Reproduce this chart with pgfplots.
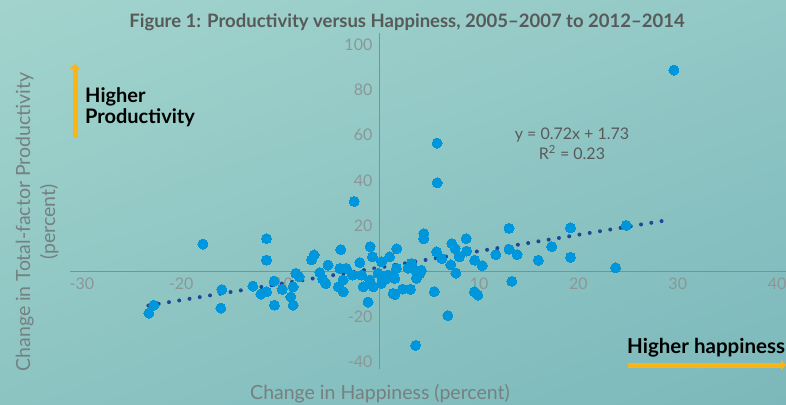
\documentclass[border=0pt]{standalone}
\usepackage{pgfplots}
\pgfplotsset{compat=1.18}
\usetikzlibrary{shadings,arrows.meta}
\usepackage{fontspec}
\setmainfont{Lato}
\definecolor{bgUL}{RGB}{162,212,205}
\definecolor{bgUR}{RGB}{146,200,198}
\definecolor{bgLL}{RGB}{140,196,194}
\definecolor{bgLR}{RGB}{124,184,187}
\definecolor{dotblue}{RGB}{0,150,220}
\definecolor{trendblue}{RGB}{28,72,150}
\definecolor{axisgray}{RGB}{135,140,140}
\definecolor{tickgray}{RGB}{140,150,150}
\definecolor{titlegray}{RGB}{88,90,90}
\definecolor{labelgray}{RGB}{118,128,128}
\definecolor{arroworange}{RGB}{250,180,20}
\begin{document}
\begin{tikzpicture}[x=1pt,y=1pt]
\shade[upper left=bgUL, upper right=bgUR, lower left=bgLL, lower right=bgLR] (0,-404) rectangle (786,0);
\begin{axis}[
  at={(70pt,-369pt)}, anchor=south west,
  scale only axis, width=716pt, height=336pt,
  xmin=-31.2, xmax=40.9, ymin=-43, ymax=105,
  axis lines=middle,
  axis line style={-, draw=axisgray, line width=1.2pt},
  xtick={-30,-20,-10,10,20,30,40},
  ytick={-40,-20,20,40,60,80,100},
  major tick length=0pt,
  tick label style={font=\fontsize{16}{16}\selectfont, text=tickgray},
  /pgf/number format/assume math mode=true,
  xticklabel style={anchor=north, yshift=-3pt},
  yticklabel style={anchor=east, xshift=-4pt},
  clip=false,
]
\addplot[dotblue, only marks, mark=*, mark size=5pt, mark options={fill=dotblue, draw=dotblue, line width=0pt}] coordinates {
(-23.26,-18.37) (-22.76,-14.85) (-17.82,12.03) (-15.91,-8.02) (-16.01,-16.17)
(-12.79,-6.48) (-11.98,-10.0) (-11.41,14.45) (-11.41,4.98) (-11.41,-8.99)
(-10.64,-4.27) (-9.84,-7.93) (-10.62,-14.85) (-8.96,-11.23) (-8.73,-14.85)
(-8.46,-0.88) (-8.13,-2.38) (-8.73,-6.78) (-6.88,5.11) (-6.62,7.27)
(-6.04,-0.53) (-5.21,2.78) (-5.77,-3.26) (-5.44,-5.37) (-3.93,9.60)
(-4.03,1.32) (-3.37,1.32) (-3.70,-3.83) (-4.18,-6.78) (-3.68,-8.99)
(-2.75,-1.63) (-2.59,30.84) (-2.01,3.88) (-1.84,-1.63) (-0.98,10.93)
(-0.74,6.43) (-1.18,-13.52) (-1.01,-3.83) (-0.67,-6.78) (-1.68,-6.78)
(0.17,4.23) (-0.17,-0.88) (0.17,-5.29) (0.33,-2.38) (0.84,-1.63)
(0.98,6.43) (0.6,-3.4) (1.34,-1.63) (1.34,-9.69) (1.68,1.32)
(1.71,9.96) (1.51,-3.08) (1.51,-10.22) (2.30,-7.80) (3.09,-7.89)
(2.84,1.45) (3.52,0.57) (3.68,-3.04) (4.18,0.48) (4.43,16.65)
(4.43,14.36) (3.60,-32.6) (5.49,-8.90) (5.72,8.59) (5.77,56.52)
(5.77,39.03) (6.22,5.64) (6.85,-19.47) (7.15,2.86) (7.25,12.25)
(7.58,10.04) (7.65,-0.75) (8.01,6.39) (8.69,14.45) (8.74,8.94)
(9.55,4.89) (9.52,-9.03) (9.87,-10.44) (10.32,2.56) (11.68,7.40)
(13.01,18.99) (13.01,9.74) (13.82,7.40) (13.29,-4.36) (15.96,4.89)
(17.30,10.93) (19.20,19.16) (19.20,6.21) (23.74,1.59) (24.80,20.26)
(29.61,88.68) (3.19,3.52) (4.03,-0.88)
};
\addplot[trendblue, line width=4pt, line cap=round, dash pattern=on 0pt off 10.4pt] coordinates {(-23.3,-15.05) (28.7,22.39)};
\end{axis}
\node[text=titlegray, font=\bfseries\fontsize{18.5}{18.5}\selectfont] at (407,-22) {Figure 1: Productivity versus Happiness, 2005–2007 to 2012–2014};
\node[rotate=90, align=center, text=labelgray, font=\fontsize{19.5}{25}\selectfont] at (37,-222) {Change in Total-factor Productivity\\(percent)};
\node[text=labelgray, font=\fontsize{19.5}{19.5}\selectfont] at (380,-394) {Change in Happiness (percent)};
\node[anchor=west, align=left, font=\bfseries\fontsize{20}{21.5}\selectfont, inner sep=0pt] at (85,-107) {Higher\\Productivity};
\draw[arroworange, line width=5pt, -{Triangle[length=5pt,width=10pt]}] (75,-138) -- (75,-64);
\node[anchor=west, font=\bfseries\fontsize{20.5}{20.5}\selectfont, inner sep=0pt] at (627,-348) {Higher happiness};
\draw[arroworange, line width=5pt, -{Triangle[length=5pt,width=10pt]}] (628,-365) -- (786,-365);
\node[text=titlegray, align=center, font=\fontsize{16}{20}\selectfont] at (572,-144) {y = 0.72x + 1.73\\R\textsuperscript{2} = 0.23};
\pgfresetboundingbox
\useasboundingbox (0,-404) rectangle (786,0);
\end{tikzpicture}
\end{document}
